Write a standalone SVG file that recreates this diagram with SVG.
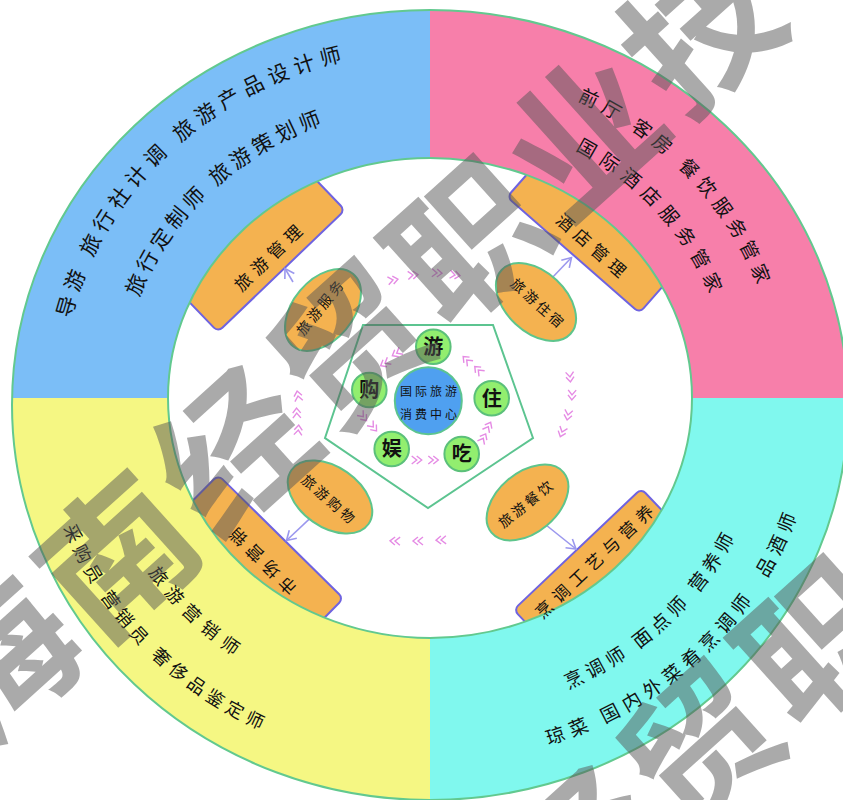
<svg xmlns="http://www.w3.org/2000/svg" xmlns:xlink="http://www.w3.org/1999/xlink" width="843" height="800" viewBox="0 0 843 800">
<style>
.cjk{font-family:"Noto Sans CJK SC","Noto Sans",sans-serif;fill:#111;}
.ring{stroke:none;}
.rline{fill:none;stroke:#62C98F;stroke-width:2;}
.box{fill:#F4B250;stroke:#6F63E0;stroke-width:2;}
.boxt{font-size:17px;letter-spacing:6px;text-anchor:middle;}
.oval{fill:#F4B250;stroke:#5EC58C;stroke-width:2;}
.ovt{font-size:14px;letter-spacing:3px;text-anchor:middle;}
.gc{fill:#92EE6F;stroke:#5BC07A;stroke-width:2;}
.gct{font-size:20px;font-weight:bold;text-anchor:middle;}
.chev{fill:none;stroke:#E58BE4;stroke-width:1.4;}
.conn{fill:none;stroke:#9B98EE;stroke-width:1.6;}
.wm{font-family:"Noto Sans CJK SC",sans-serif;font-size:150px;letter-spacing:7px;fill:#555;fill-opacity:0.5;font-weight:bold;}
</style>
<defs>
<marker id="ah" markerWidth="14" markerHeight="14" refX="11" refY="7" orient="auto" markerUnits="userSpaceOnUse">
<path d="M2,1.5 L11,7 L2,12.5" fill="none" stroke="#9B98EE" stroke-width="1.6"/>
</marker>
<path id="chv" d="M-5,-4 L0,0 L-5,4 M0,-4 L5,0 L0,4"/>
<path id="pBo" d="M71.0,318.8 A368.7,346.6 0 0 1 462.1,52.7"/>
<path id="pBi" d="M139.0,297.6 A310,291.4 0 0 1 457,107.7"/>
<path id="pPo" d="M577.2,100.6 A349,328 0 0 1 777.7,426.6"/>
<path id="pPi" d="M575.2,150.1 A301,283 0 0 1 729.9,422.7"/>
<path id="pYo" d="M63.4,527.8 A391.8,368.3 0 0 0 498,760.7"/>
<path id="pYi" d="M148.3,572.6 A337.4,317.2 0 0 0 400.6,714"/>
<path id="pCo" d="M548.4,745.1 A387.8,364.5 0 0 0 816.3,429.8"/>
<path id="pCi" d="M568.2,689.1 A339.2,318.8 0 0 0 767.9,425.8"/>
</defs>
<rect width="843" height="800" fill="#fff"/>

<g id="box-tourism-mgmt">
<rect class="box" x="-88" y="-110" width="176" height="110" rx="6" transform="translate(281.5,271) rotate(-43.85)"/>
</g>
<g id="box-hotel-mgmt">
<rect class="box" x="-88" y="-110" width="176" height="110" rx="6" transform="translate(573.3,255) rotate(41.2)"/>
</g>
<g id="box-marketing">
<rect class="box" x="-88" y="0" width="176" height="110" rx="6" transform="translate(280.8,536.7) rotate(44.6)"/>
</g>
<g id="box-cooking">
<rect class="box" x="-88" y="0" width="176" height="110" rx="6" transform="translate(577.5,549.2) rotate(-43.5)"/>
</g>

<g id="ring">
<path class="ring" fill="#7BBEF7" d="M12.07,398 A418,395 0 0 1 430,10 L430,158 A262,240 0 0 0 168,398 Z"/>
<path class="ring" fill="#F77FAA" d="M430,10 A418,395 0 0 1 847.93,398 L692,398 A262,240 0 0 0 430,158 Z"/>
<path class="ring" fill="#80F8EE" d="M847.93,398 A418,395 0 0 1 430,800 L430,638 A262,240 0 0 0 692,398 Z"/>
<path class="ring" fill="#F5F783" d="M430,800 A418,395 0 0 1 12.07,398 L168,398 A262,240 0 0 0 430,638 Z"/>
<ellipse class="rline" cx="430" cy="405" rx="418" ry="395"/>
<ellipse class="rline" cx="430" cy="398" rx="262" ry="240"/>
</g>

<g id="ring-text" class="cjk">
<text font-size="21" letter-spacing="6"><textPath href="#pBo">导游 旅行社计调 旅游产品设计师</textPath></text>
<text font-size="21" letter-spacing="4.5"><textPath href="#pBi">旅行定制师 旅游策划师</textPath></text>
<text font-size="19" letter-spacing="6"><textPath href="#pPo">前厅 客房 餐饮服务管家</textPath></text>
<text font-size="19" letter-spacing="7"><textPath href="#pPi">国际酒店服务管家</textPath></text>
<text font-size="18" letter-spacing="5"><textPath href="#pYo">采购员 营销员 奢侈品鉴定师</textPath></text>
<text font-size="18" letter-spacing="7.5"><textPath href="#pYi">旅游营销师</textPath></text>
<text font-size="19" letter-spacing="6"><textPath href="#pCo">琼菜 国内外菜肴烹调师&#160;&#160;品酒师</textPath></text>
<text font-size="19" letter-spacing="5"><textPath href="#pCi">烹调师 面点师 营养师</textPath></text>
</g>

<g id="box-labels" class="cjk">
<text class="boxt" x="3" y="6" transform="translate(268.3,258.3) rotate(-43.85)">旅游管理</text>
<text class="boxt" x="3" y="6" transform="translate(591,245.5) rotate(41.2)">酒店管理</text>
<text class="boxt" x="3" y="6" transform="translate(263.3,561) rotate(224.6)">市场营销</text>
<text class="boxt" x="2.5" y="6" letter-spacing="5" transform="translate(595,561.7) rotate(-43.5)">烹调工艺与营养</text>
</g>

<g id="pentagon">
<polygon points="363,325 493,325 533,438 428,508 325,438" fill="#fff" stroke="#5CC490" stroke-width="2"/>
</g>

<g id="chevrons" class="chev">
<use href="#chv" transform="translate(396.7,353.3) rotate(150)"/>
<use href="#chv" transform="translate(385,363.3) rotate(150)"/>
<use href="#chv" transform="translate(363.3,416.7) rotate(50)"/>
<use href="#chv" transform="translate(373.3,427) rotate(50)"/>
<use href="#chv" transform="translate(416.7,460) rotate(0)"/>
<use href="#chv" transform="translate(433.3,460) rotate(0)"/>
<use href="#chv" transform="translate(483.3,438.3) rotate(-62)"/>
<use href="#chv" transform="translate(488.3,426.7) rotate(-62)"/>
<use href="#chv" transform="translate(478.3,370) rotate(-135)"/>
<use href="#chv" transform="translate(466.7,360) rotate(-135)"/>
<use href="#chv" transform="translate(393,280) rotate(-10)"/>
<use href="#chv" transform="translate(413,275) rotate(-5)"/>
<use href="#chv" transform="translate(437,273) rotate(3)"/>
<use href="#chv" transform="translate(455,275) rotate(8)"/>
<use href="#chv" transform="translate(570,377) rotate(85)"/>
<use href="#chv" transform="translate(572,395) rotate(92)"/>
<use href="#chv" transform="translate(568,415) rotate(100)"/>
<use href="#chv" transform="translate(562,432) rotate(110)"/>
<use href="#chv" transform="translate(441,540) rotate(178)"/>
<use href="#chv" transform="translate(418,541) rotate(180)"/>
<use href="#chv" transform="translate(395,541) rotate(182)"/>
<use href="#chv" transform="translate(298.3,430) rotate(-85)"/>
<use href="#chv" transform="translate(296.7,413) rotate(-92)"/>
<use href="#chv" transform="translate(298,396) rotate(-100)"/>
</g>

<g id="connectors" class="conn">
<line x1="293" y1="282" x2="285" y2="268.5" marker-end="url(#ah)"/>
<line x1="551.7" y1="278.3" x2="571.5" y2="257.5" marker-end="url(#ah)"/>
<line x1="310" y1="518.3" x2="286.5" y2="540.5" marker-end="url(#ah)"/>
<line x1="546" y1="525" x2="576" y2="549" marker-end="url(#ah)"/>
</g>

<g id="oval-service">
<ellipse class="oval" cx="0" cy="0" rx="47" ry="30" transform="translate(323,310) rotate(-50)"/>
<text class="cjk ovt" x="1.5" y="5" transform="translate(320,308) rotate(-51)">旅游服务</text>
</g>
<g id="oval-lodging">
<ellipse class="oval" cx="0" cy="0" rx="47" ry="30" transform="translate(536,302) rotate(43)"/>
<text class="cjk ovt" x="1.5" y="5" transform="translate(537,303) rotate(42)">旅游住宿</text>
</g>
<g id="oval-shopping">
<ellipse class="oval" cx="0" cy="0" rx="47" ry="30" transform="translate(330,497) rotate(35)"/>
<text class="cjk ovt" x="1.5" y="5" transform="translate(328,499) rotate(41)">旅游购物</text>
</g>
<g id="oval-dining">
<ellipse class="oval" cx="0" cy="0" rx="47" ry="30" transform="translate(527.5,502.5) rotate(-40)"/>
<text class="cjk ovt" x="1.5" y="5" transform="translate(525.5,504.5) rotate(-39)">旅游餐饮</text>
</g>

<g id="center">
<circle cx="428.3" cy="400.7" r="33.5" fill="#4FA0F0" stroke="#5CC490" stroke-width="2"/>
<text class="cjk" x="430" y="396" font-size="12" letter-spacing="3" text-anchor="middle" fill="#1B2550">国际旅游</text>
<text class="cjk" x="430" y="419" font-size="12" letter-spacing="3" text-anchor="middle" fill="#1B2550">消费中心</text>
</g>
<g id="c-you"><circle class="gc" cx="433.3" cy="346.7" r="17.3"/><text class="cjk gct" x="433.3" y="354">游</text></g>
<g id="c-zhu"><circle class="gc" cx="491.7" cy="398.3" r="17.3"/><text class="cjk gct" x="491.7" y="405.6">住</text></g>
<g id="c-chi"><circle class="gc" cx="461.7" cy="454" r="17.3"/><text class="cjk gct" x="461.7" y="461.3">吃</text></g>
<g id="c-yu"><circle class="gc" cx="391.7" cy="449" r="17.3"/><text class="cjk gct" x="391.7" y="456.3">娱</text></g>
<g id="c-gou"><circle class="gc" cx="369.3" cy="390" r="17.3"/><text class="cjk gct" x="369.3" y="397.3">购</text></g>

<g id="watermark">
<text class="wm" transform="translate(-17.6,752.6) rotate(-42)">海南经贸职业技</text>
<text class="wm" transform="translate(565.7,942.6) rotate(-42)">经贸职业</text>
</g>
</svg>
